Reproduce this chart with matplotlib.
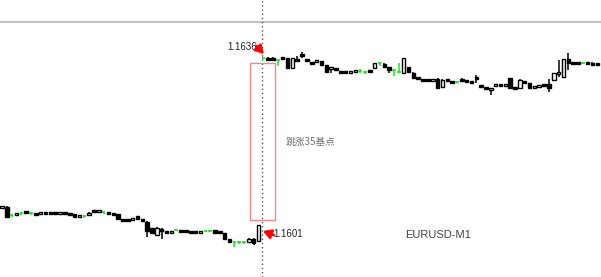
import matplotlib
matplotlib.use("Agg")
import matplotlib.pyplot as plt
from matplotlib.patches import Rectangle
import numpy as np

plt.rcParams['font.family'] = ['Liberation Sans', 'Noto Sans CJK SC', 'DejaVu Sans']

# EURUSD M1 candles (open / high / low / close)
opens = [
    1.16065, 1.16066, 1.16050, 1.16051, 1.16055, 1.160565, 1.16054, 1.160535, 1.16053, 1.16055,
    1.160545, 1.160545, 1.160535, 1.16055, 1.16053, 1.16050, 1.16047, 1.16048, 1.16050, 1.160595,
    1.16056, 1.16056, 1.160555, 1.16053, 1.16052, 1.16041, 1.160405, 1.16041, 1.16046, 1.16042,
    1.16037, 1.16024, 1.16011, 1.16023, 1.160175, 1.16016, 1.160205, 1.16020, 1.160195, 1.16018,
    1.16017, 1.16015, 1.160195, 1.16019, 1.16019, 1.160175, 1.16015, 1.160015, 1.159965, 1.15998,
    1.15997, 1.15997, 1.16004, 1.159995,
    1.16358, 1.16357, 1.16357, 1.163545, 1.16359, 1.16358, 1.16339, 1.16356, 1.163645, 1.16355,
    1.16350, 1.163505, 1.16352, 1.163445, 1.16336, 1.163375, 1.16331, 1.16331, 1.16329, 1.163315,
    1.16333, 1.16331, 1.16333, 1.163385, 1.16348, 1.16346, 1.16340, 1.16334, 1.16331, 1.16329,
    1.16340, 1.16329, 1.163195, 1.16315, 1.163155, 1.163135, 1.16317, 1.16301, 1.163155, 1.163115,
    1.16311, 1.163155, 1.163135, 1.163115, 1.16319, 1.16305, 1.163005, 1.16296, 1.163035, 1.16306,
    1.16304, 1.16319, 1.162995, 1.16299, 1.16313, 1.16309, 1.162995, 1.163015, 1.16307, 1.16307,
    1.16315, 1.16326, 1.16321, 1.16356, 1.163495, 1.16349, 1.16348, 1.16349, 1.163475, 1.16347,
]
highs = [
    1.16068, 1.16067, 1.16052, 1.16055, 1.16056, 1.16058, 1.16055, 1.16054, 1.16056, 1.16056,
    1.160555, 1.16056, 1.16056, 1.160555, 1.160535, 1.160505, 1.160495, 1.16050, 1.16056, 1.16060,
    1.16060, 1.16057, 1.16056, 1.160535, 1.160525, 1.160415, 1.16041, 1.16045, 1.16049, 1.160425,
    1.160375, 1.16025, 1.16026, 1.16025, 1.160185, 1.160195, 1.160215, 1.160205, 1.16020, 1.160185,
    1.160175, 1.160195, 1.160205, 1.16020, 1.160195, 1.16018, 1.160155, 1.16002, 1.159975, 1.159995,
    1.159985, 1.160045, 1.16005, 1.16031,
    1.16360, 1.16360, 1.16360, 1.16355, 1.16360, 1.16359, 1.16359, 1.16362, 1.163698, 1.16356,
    1.16351, 1.16354, 1.16353, 1.16345, 1.16341, 1.16338, 1.163315, 1.163315, 1.16333, 1.163345,
    1.16336, 1.16332, 1.163335, 1.16349, 1.16350, 1.16349, 1.16341, 1.16335, 1.16348, 1.16359,
    1.16341, 1.16330, 1.16320, 1.163155, 1.16316, 1.163165, 1.16319, 1.16316, 1.16316, 1.16313,
    1.16312, 1.16318, 1.163145, 1.16312, 1.16325, 1.163055, 1.16301, 1.162995, 1.16307, 1.163065,
    1.16307, 1.163195, 1.16300, 1.16316, 1.163135, 1.163095, 1.16303, 1.16305, 1.163075, 1.16317,
    1.16329, 1.16354, 1.16357, 1.16368, 1.16350, 1.16350, 1.16349, 1.16351, 1.16350, 1.163475,
]
lows = [
    1.16064, 1.16045, 1.16046, 1.16050, 1.16050, 1.16054, 1.16051, 1.16051, 1.160525, 1.16053,
    1.16053, 1.160535, 1.16053, 1.160525, 1.160495, 1.160475, 1.160465, 1.16045, 1.160495, 1.160565,
    1.160555, 1.16053, 1.160525, 1.160495, 1.16042, 1.160395, 1.160395, 1.160405, 1.16044, 1.160375,
    1.160075, 1.160145, 1.160105, 1.16003, 1.16016, 1.160155, 1.16019, 1.16018, 1.160175, 1.16015,
    1.16015, 1.160145, 1.160185, 1.16018, 1.160165, 1.160145, 1.16002, 1.15998, 1.15988, 1.15994,
    1.15994, 1.159965, 1.159915, 1.15999,
    1.16356, 1.16352, 1.16352, 1.163425, 1.16357, 1.16338, 1.16338, 1.16350, 1.16358, 1.16352,
    1.163465, 1.16350, 1.16344, 1.163305, 1.163285, 1.163345, 1.16327, 1.16329, 1.163285, 1.16331,
    1.16329, 1.16326, 1.16328, 1.16338, 1.16343, 1.16340, 1.16329, 1.16323, 1.16329, 1.163285,
    1.16330, 1.163185, 1.16317, 1.16312, 1.163135, 1.16313, 1.16299, 1.163005, 1.16313, 1.16309,
    1.163095, 1.16313, 1.163115, 1.16307, 1.16309, 1.163015, 1.16298, 1.162855, 1.16303, 1.163035,
    1.163035, 1.16299, 1.16298, 1.162985, 1.16309, 1.16299, 1.16299, 1.16301, 1.16303, 1.16291,
    1.16314, 1.16321, 1.16320, 1.16334, 1.163465, 1.16347, 1.16346, 1.16345, 1.16342, 1.16342,
]
closes = [
    1.16067, 1.16047, 1.16050, 1.16054, 1.16055, 1.160555, 1.16054, 1.160515, 1.16055, 1.160545,
    1.16054, 1.16054, 1.160555, 1.16053, 1.16050, 1.16048, 1.16049, 1.16048, 1.16055, 1.16057,
    1.16059, 1.16056, 1.16053, 1.16050, 1.160425, 1.16040, 1.16040, 1.160445, 1.160445, 1.16038,
    1.16018, 1.16015, 1.16025, 1.16018, 1.16017, 1.16019, 1.160205, 1.160185, 1.16018, 1.160155,
    1.160155, 1.16019, 1.160195, 1.16019, 1.16017, 1.16015, 1.160025, 1.159985, 1.159965, 1.15998,
    1.15997, 1.160035, 1.159955, 1.160305,
    1.16358, 1.16355, 1.16355, 1.163545, 1.163575, 1.163385, 1.16358, 1.16353, 1.163625, 1.16353,
    1.16347, 1.163535, 1.163445, 1.16331, 1.16340, 1.16335, 1.16330, 1.163295, 1.16332, 1.16334,
    1.16333, 1.16331, 1.16332, 1.16348, 1.16348, 1.163405, 1.16334, 1.16334, 1.16331, 1.16358,
    1.16331, 1.16319, 1.163175, 1.163145, 1.16314, 1.16316, 1.16300, 1.16315, 1.163135, 1.163105,
    1.16311, 1.163135, 1.16312, 1.16311, 1.163175, 1.16302, 1.162985, 1.162985, 1.16306, 1.16304,
    1.163065, 1.162995, 1.162985, 1.16315, 1.163095, 1.162995, 1.163025, 1.163045, 1.163035, 1.16299,
    1.16328, 1.16330, 1.16356, 1.16348, 1.16347, 1.163475, 1.16348, 1.163475, 1.163455, 1.16346,
]

symbol = "EURUSD-M1"
price_high = "1.1636"
price_low = "1.1601"
note = "跳涨35基点"

o = np.array(opens)
h = np.array(highs)
l = np.array(lows)
c = np.array(closes)
x = np.arange(len(o))

fig = plt.figure(figsize=(6.01, 2.77), dpi=100)
ax = fig.add_axes([0, 0, 1, 1])
ax.set_facecolor('white')

up = c > o
down = c < o
flat = c == o
green = '#22e022'
w = 0.72
min_h = 0.000045

# wicks
ax.vlines(x[~flat], l[~flat], h[~flat], color='black', lw=1.1)
ax.vlines(x[flat], l[flat], h[flat], color=green, lw=1.1)

# bodies (tiny bodies still get a couple of pixels, like the terminal draws them)
body = np.maximum(np.abs(c - o), min_h)
mid = (o + c) / 2
bottom = np.where(np.abs(c - o) < min_h, mid - min_h / 2, np.minimum(o, c))
ax.bar(x[up], body[up], bottom=bottom[up], width=w, color='white',
       edgecolor='black', lw=1, zorder=3)
ax.bar(x[down], body[down], bottom=bottom[down], width=w, color='black',
       edgecolor='black', lw=1, zorder=3)
ax.hlines(o[flat], x[flat] - w / 2, x[flat] + w / 2, color=green, lw=1.2, zorder=3)

# chart objects
ax.axhline(1.16429, color='#c0c0c8', lw=1.6)
ax.axvline(53.7, color='#555555', lw=1, ls=(0, (1, 2)))
ax.add_patch(Rectangle((51.24, 1.160404), 5.16, 0.003078, fill=False,
                       edgecolor='#f08a8a', lw=1, zorder=2))

arrow = dict(arrowstyle='-|>,head_width=0.35,head_length=0.6', color='red',
             lw=1.8, mutation_scale=8, shrinkA=0, shrinkB=0)
ax.annotate('', xy=(54.1, 1.163659), xytext=(-5.5, 6), textcoords='offset points',
            arrowprops=arrow, zorder=5)
ax.annotate('', xy=(53.9, 1.160188), xytext=(8, -3), textcoords='offset points',
            arrowprops=arrow, zorder=5)
ax.text(52.8, 1.163796, price_high, ha='right', va='center', fontsize=7, color='#222222')
ax.text(56.0, 1.160129, price_low, ha='left', va='center', fontsize=7, color='#222222')
ax.text(58.5, 1.161933, note, ha='left', va='center', fontsize=7, color='#707070',
        family=['Noto Sans CJK SC', 'DejaVu Sans'])
ax.text(83.3, 1.16011, symbol, ha='left', va='center', fontsize=8, color='#444444')

ax.set_xlim(-0.413, 123.76)
ax.set_ylim(1.159286, 1.164718)
ax.set_axis_off()

plt.savefig('out.png', dpi=100, facecolor='white')
